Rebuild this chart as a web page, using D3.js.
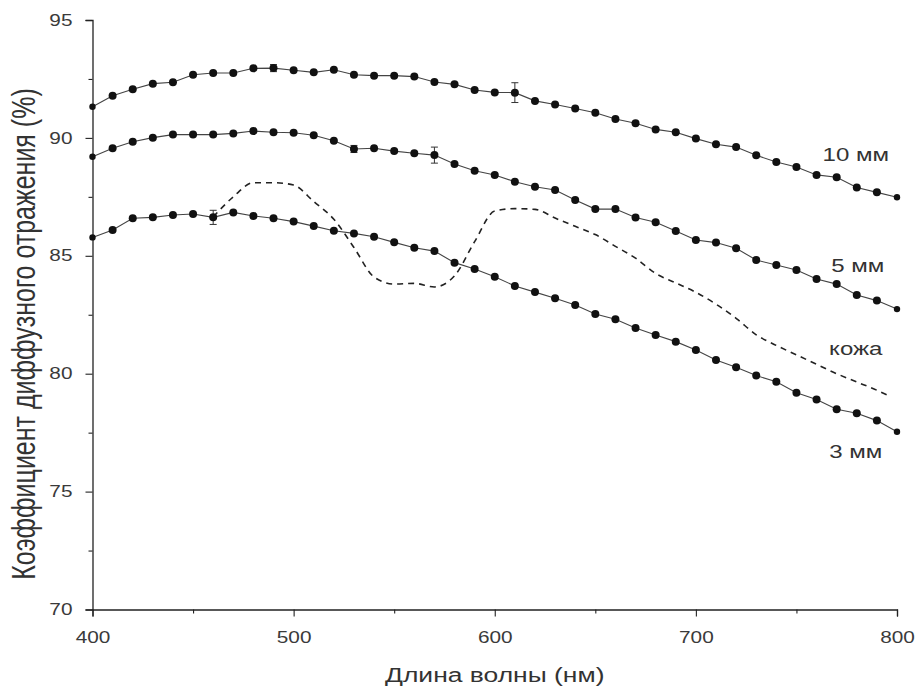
<!DOCTYPE html>
<html>
<head>
<meta charset="utf-8">
<script src="https://cdn.jsdelivr.net/npm/d3@7"></script>
<style>
  body { margin: 0; background: #fff; }
  svg { font-family: "Liberation Sans", Arial, sans-serif; }
</style>
</head>
<body>
<script>
// wavelengths (nm) for the measured series
const wavelengths = [400, 410, 420, 430, 440, 450, 460, 470, 480, 490, 500, 510, 520, 530,
                     540, 550, 560, 570, 580, 590, 600, 610, 620, 630, 640, 650, 660, 670,
                     680, 690, 700, 710, 720, 730, 740, 750, 760, 770, 780, 790, 800];

const mm10 = [91.32, 91.79, 92.06, 92.30, 92.36, 92.68, 92.75, 92.75, 92.95, 92.96, 92.87, 92.78, 92.89, 92.68,
              92.64, 92.64, 92.60, 92.37, 92.27, 92.03, 91.93, 91.92, 91.57, 91.42, 91.25, 91.07, 90.80, 90.62,
              90.36, 90.24, 89.97, 89.73, 89.61, 89.26, 88.98, 88.77, 88.43, 88.33, 87.90, 87.69, 87.48];
const mm5 = [89.20, 89.56, 89.84, 90.01, 90.14, 90.14, 90.14, 90.19, 90.29, 90.24, 90.22, 90.11, 89.88, 89.53,
             89.56, 89.44, 89.35, 89.27, 88.89, 88.61, 88.43, 88.14, 87.93, 87.79, 87.37, 86.98, 86.98, 86.62,
             86.42, 86.05, 85.67, 85.56, 85.32, 84.82, 84.61, 84.40, 84.02, 83.80, 83.34, 83.10, 82.74];
const mm3 = [85.78, 86.09, 86.59, 86.63, 86.73, 86.77, 86.63, 86.84, 86.69, 86.59, 86.45, 86.26, 86.06, 85.95,
             85.81, 85.57, 85.34, 85.20, 84.71, 84.44, 84.11, 83.72, 83.46, 83.20, 82.91, 82.53, 82.31, 81.94,
             81.64, 81.36, 81.01, 80.58, 80.27, 79.92, 79.66, 79.19, 78.91, 78.49, 78.32, 78.01, 77.54];

// skin curve (dashed, no markers)
const skinWl = [460, 470, 480, 490, 500, 510, 520, 530, 540, 550, 560, 570, 580, 590, 600, 610, 620,
                630, 640, 650, 660, 670, 680, 690, 700, 710, 720, 730, 740, 750, 760, 770, 780, 790, 795];
const skin = [86.65, 87.5, 88.1, 88.1, 88.0, 87.3, 86.55, 85.35, 84.1, 83.8, 83.83, 83.68, 84.15, 85.6, 86.9, 87.0, 86.97,
              86.6, 86.25, 85.9, 85.4, 84.9, 84.25, 83.85, 83.45, 82.95, 82.35, 81.65, 81.2, 80.8, 80.4, 80.0, 79.65, 79.3, 79.1];

// error bars
const errSeries = ["10 мм", "10 мм", "5 мм", "5 мм", "3 мм"];
const errWl = [490, 610, 530, 570, 460];
const errSize = [0.15, 0.42, 0.15, 0.34, 0.3];

// curve labels (baseline positions in data units)
const labelText = ["10 мм", "5 мм", "кожа", "3 мм"];
const labelY = [89.02, 84.31, 80.79, 76.43];
const labelX = [779.5, 780.5, 779.5, 779.5];

const xTicks = [400, 500, 600, 700, 800];
const xMinor = [450, 550, 650, 750];
const yTicks = [70, 75, 80, 85, 90, 95];
const yMinor = [72.5, 77.5, 82.5, 87.5, 92.5];

const series = [
  {name: "10 мм", values: mm10},
  {name: "5 мм", values: mm5},
  {name: "3 мм", values: mm3}
];

const W = 915, H = 693;
const margin = {top: 20, right: 18, bottom: 83.5, left: 92.5},
    width = W - margin.left - margin.right,
    height = H - margin.top - margin.bottom;

// the original picture is stretched sideways, so the text is too
const stretch = 1.3;
const ink = "#222";

let svg = d3.select("body")
  .append("svg")
    .attr("width", W)
    .attr("height", H)
  .append("g")
    .attr("transform", "translate(" + margin.left + "," + margin.top + ")");

const xScale = d3.scaleLinear().domain([400, 800]).range([0, width]);
const yScale = d3.scaleLinear().domain([70, 95]).range([height, 0]);

// axes
let xAxis = svg.append("g")
  .attr("transform", "translate(0," + height + ")")
  .call(d3.axisBottom(xScale).tickValues(xTicks).tickSize(7).tickPadding(15).tickFormat(d3.format("d")));
svg.append("g")
  .attr("transform", "translate(0," + height + ")")
  .call(d3.axisBottom(xScale).tickValues(xMinor).tickSize(4).tickFormat(""))
  .select(".domain").remove();

let yAxis = svg.append("g")
  .call(d3.axisLeft(yScale).tickValues(yTicks).tickSize(7).tickFormat(d3.format("d")));
svg.append("g")
  .call(d3.axisLeft(yScale).tickValues(yMinor).tickSize(4).tickFormat(""))
  .select(".domain").remove();

svg.selectAll(".domain").attr("stroke", ink).attr("stroke-width", 1.3);
svg.selectAll(".tick line").attr("stroke", ink).attr("stroke-width", 1.1);
svg.selectAll(".tick text")
  .attr("fill", "#3a3a3a")
  .style("font-size", "16px")
  .style("font-family", "Liberation Sans, Arial, sans-serif");

xAxis.selectAll(".tick text")
  .attr("transform", "scale(" + stretch + ",1)");
yAxis.selectAll(".tick text")
  .attr("x", 0)
  .attr("transform", "translate(-20,0) scale(" + stretch + ",1)");

// axis titles
svg.append("text")
  .attr("transform", "translate(" + (width / 2) + "," + (height + 72.5) + ") scale(1.26,1)")
  .attr("text-anchor", "middle")
  .attr("fill", "#333")
  .style("font-size", "21px")
  .text("Длина волны (нм)");

svg.append("text")
  .attr("transform", "translate(" + (35 - margin.left) + "," + (334 - margin.top) + ") rotate(-90) scale(1," + stretch + ")")
  .attr("text-anchor", "middle")
  .attr("fill", "#333")
  .style("font-size", "25px")
  .text("Коэффициент диффузного отражения (%)");

// skin dashed line
const skinLine = d3.line()
  .x((d, i) => xScale(skinWl[i]))
  .y(d => yScale(d))
  .curve(d3.curveMonotoneX);

svg.append("path")
  .datum(skin)
  .attr("d", skinLine)
  .attr("fill", "none")
  .attr("stroke", ink)
  .attr("stroke-width", 1.6)
  .attr("stroke-dasharray", "6,5");

// measured series
const line = d3.line()
  .x((d, i) => xScale(wavelengths[i]))
  .y(d => yScale(d));

for (const s of series) {
  svg.append("path")
    .datum(s.values)
    .attr("d", line)
    .attr("fill", "none")
    .attr("stroke", "#444")
    .attr("stroke-width", 1.1);
}

// error bars
errWl.forEach((wl, i) => {
  const s = series.find(d => d.name === errSeries[i]);
  const v = s.values[wavelengths.indexOf(wl)];
  const x = xScale(wl);
  const y0 = yScale(v - errSize[i]), y1 = yScale(v + errSize[i]);
  const g = svg.append("g").attr("stroke", "#333").attr("stroke-width", 1);
  g.append("line").attr("x1", x).attr("x2", x).attr("y1", y0).attr("y2", y1);
  g.append("line").attr("x1", x - 3.5).attr("x2", x + 3.5).attr("y1", y0).attr("y2", y0);
  g.append("line").attr("x1", x - 3.5).attr("x2", x + 3.5).attr("y1", y1).attr("y2", y1);
});

// markers
for (const s of series) {
  svg.append("g")
    .selectAll("circle")
    .data(s.values)
    .enter()
    .append("circle")
    .attr("cx", (d, i) => xScale(wavelengths[i]))
    .attr("cy", d => yScale(d))
    .attr("r", (d, i) => (i === 0 || i === wavelengths.length - 1) ? 3.2 : 4)
    .attr("fill", "#111");
}

// labels
svg.selectAll(".curve-label")
  .data(labelText)
  .enter()
  .append("text")
  .attr("class", "curve-label")
  .attr("transform", (d, i) => "translate(" + xScale(labelX[i]) + "," + yScale(labelY[i]) + ") scale(" + stretch + ",1)")
  .attr("text-anchor", "middle")
  .attr("fill", "#333")
  .style("font-size", "18.5px")
  .text(d => d);
</script>
</body>
</html>
